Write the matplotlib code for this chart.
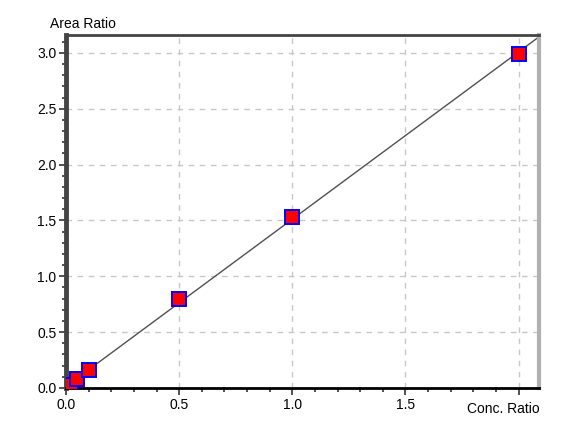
import numpy as np
import matplotlib.pyplot as plt

CONC_RATIO = [0.01, 0.02, 0.05, 0.1, 0.5, 1.0, 2.0]
AREA_RATIO = [0.015, 0.03, 0.08, 0.16, 0.80, 1.53, 2.99]
X_TICKS = [0.0, 0.5, 1.0, 1.5, 2.0]
X_TICK_LABELS = ['0.0', '0.5', '1.0', '1.5', '']
Y_TICKS = [0.0, 0.5, 1.0, 1.5, 2.0, 2.5, 3.0]

plt.rcParams['font.family'] = ['Liberation Sans', 'DejaVu Sans']

fig = plt.figure(figsize=(5.68, 4.21), dpi=100)
ax = fig.add_axes([0.1162, 0.0784, 0.8327, 0.8385])

x = np.array(CONC_RATIO)
y = np.array(AREA_RATIO)
slope, intercept = np.polyfit(x, y, 1)
fit_x = np.array([0.0, 2.12])
ax.plot(fit_x, slope * fit_x + intercept, color='#505050', lw=1.0, zorder=2)

ax.plot(x, y, 's', markersize=9.5, markerfacecolor='red', markeredgecolor='blue',
        markeredgewidth=1.4, zorder=3)

ax.set_xlim(0, 2.09)
ax.set_ylim(0, 3.16)
ax.set_xticks(X_TICKS)
ax.set_xticklabels(X_TICK_LABELS)
ax.set_yticks(Y_TICKS)
ax.set_yticklabels([f'{v:.1f}' for v in Y_TICKS])
ax.set_xticks(np.arange(0, 2.09, 0.1), minor=True)
ax.set_yticks(np.arange(0, 3.16, 0.1), minor=True)
ax.tick_params(which='major', length=5, width=1.2, color='#333333', labelsize=10, pad=2)
ax.tick_params(which='minor', length=3, width=1.2, color='#333333')

ax.grid(True, which='major', color='#c8c8c8', linestyle=(0, (4, 4)), lw=1)
ax.set_axisbelow(True)

ax.spines['left'].set_color('#444444')
ax.spines['left'].set_linewidth(3.5)
ax.spines['top'].set_color('#444444')
ax.spines['top'].set_linewidth(2)
ax.spines['bottom'].set_color('black')
ax.spines['bottom'].set_linewidth(2)
ax.spines['right'].set_color('#b0b0b0')
ax.spines['right'].set_linewidth(3)

fig.text(50 / 568, 1 - 24 / 421, 'Area Ratio', fontsize=10, va='center', ha='left')
fig.text(540 / 568, 1 - 409 / 421, 'Conc. Ratio', fontsize=10, va='center', ha='right')

fig.savefig('out.png', dpi=100)
